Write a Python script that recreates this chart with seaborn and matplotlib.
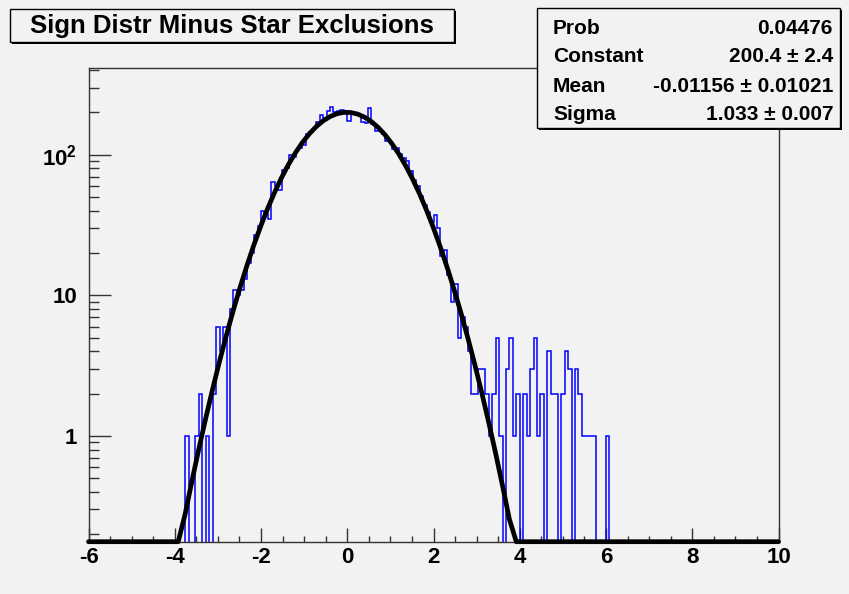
import numpy as np
import matplotlib
matplotlib.use('Agg')
import matplotlib.pyplot as plt
import seaborn as sns
from matplotlib.patches import Rectangle
from matplotlib.ticker import FixedLocator, FixedFormatter, NullFormatter, MultipleLocator, LogLocator

# ---------------- data ----------------
hist_title = "Sign Distr Minus Star Exclusions"
hist_xmin, hist_xmax, hist_nbins = -6.0, 10.0, 200
first_filled_bin = 28          # counts below start at bin 28 (x = -3.76)
bin_counts = [
    1, 0, 0, 1, 2, 0, 1, 0, 2, 6,
    4, 6, 1, 8, 11, 10, 11, 13, 17, 20,
    27, 31, 40, 38, 35, 64, 60, 56, 78, 80,
    99, 97, 108, 112, 117, 140, 146, 155, 170, 191,
    182, 205, 219, 200, 204, 208, 205, 175, 196, 198,
    191, 172, 168, 214, 165, 148, 150, 140, 126, 124,
    110, 112, 102, 94, 90, 76, 66, 60, 51, 44,
    39, 33, 37, 30, 19, 21, 14, 9, 12, 5,
    7, 6, 4, 2, 2, 3, 3, 2, 1, 2,
    5, 1, 0, 3, 5, 1, 2, 0, 2, 1,
    3, 5, 1, 2, 0, 4, 2, 2, 0, 2,
    4, 3, 0, 3, 2, 1, 1, 1, 1, 0,
    0, 0, 1,
]
stat_names = ["Prob", "Constant", "Mean", "Sigma"]
stat_values = ["0.04476", "200.4 \u00b1 2.4", "-0.01156 \u00b1 0.01021", "1.033 \u00b1 0.007"]
fit_constant, fit_mean, fit_sigma = 200.4, -0.01156, 1.033
x_ticks = [-6, -4, -2, 0, 2, 4, 6, 8, 10]
x_tick_labels = ["-6", "-4", "-2", "0", "2", "4", "6", "8", "10"]
y_ticks = [1, 10, 100]
y_tick_labels = ["1", "10", r"$\mathbf{10^{2}}$"]

# ---------------- style ----------------
sns.set_theme(style="ticks")
plt.rcParams['font.family'] = ['Liberation Sans', 'DejaVu Sans']
plt.rcParams['mathtext.fontset'] = 'custom'
plt.rcParams['mathtext.bf'] = 'Liberation Sans:bold'
plt.rcParams['mathtext.rm'] = 'Liberation Sans:bold'
plt.rcParams['mathtext.it'] = 'Liberation Sans:bold'

W, H = 849, 594
bg = '#f2f2f2'
frame_col = '#333333'
fig = plt.figure(figsize=(W / 100, H / 100), dpi=100, facecolor=bg)

ax_left, ax_right, ax_top, ax_bottom = 88.5, 778.5, 68.3, 541.7
ax = fig.add_axes([ax_left / W, 1 - ax_bottom / H, (ax_right - ax_left) / W, (ax_bottom - ax_top) / H])
ax.set_facecolor(bg)

ymin, ymax = 0.177, 411.7
ax.set_yscale('log')
ax.set_xlim(hist_xmin, hist_xmax)
ax.set_ylim(ymin, ymax)

# histogram
edges = np.linspace(hist_xmin, hist_xmax, hist_nbins + 1)
counts = np.zeros(hist_nbins)
counts[first_filled_bin:first_filled_bin + len(bin_counts)] = bin_counts
draw_counts = np.where(counts > 0, counts, ymin * 1e-3)
ax.stairs(draw_counts, edges, color='#0000ff', lw=1.1, baseline=None, zorder=2)

# gaussian fit curve (ROOT draws it with 100 segments, clipped at the frame bottom)
xf = np.linspace(hist_xmin, hist_xmax, 101)
yf = fit_constant * np.exp(-0.5 * ((xf - fit_mean) / fit_sigma) ** 2)
yf = np.maximum(yf, ymin)
sns.lineplot(x=xf, y=yf, color='black', lw=3.4, ax=ax, clip_on=False, zorder=3)

# ticks
ax.xaxis.set_major_locator(FixedLocator(x_ticks))
ax.xaxis.set_major_formatter(FixedFormatter(x_tick_labels))
ax.xaxis.set_minor_locator(MultipleLocator(0.5))
ax.yaxis.set_major_locator(FixedLocator(y_ticks))
ax.yaxis.set_major_formatter(FixedFormatter(y_tick_labels))
ax.yaxis.set_minor_locator(LogLocator(base=10, subs=np.arange(2, 10)))
ax.yaxis.set_minor_formatter(NullFormatter())
ax.tick_params(which='both', direction='in', top=False, right=False, color=frame_col, width=1.0)
ax.tick_params(axis='y', which='major', length=15.6, pad=8.0, labelsize=16)
ax.tick_params(axis='y', which='minor', length=7.2)
ax.tick_params(axis='x', which='major', length=10, pad=4.0, labelsize=16)
ax.tick_params(axis='x', which='minor', length=4.5)
for lab in ax.get_xticklabels() + ax.get_yticklabels():
    lab.set_fontweight('bold')
    lab.set_color('black')
for s in ax.spines.values():
    s.set_color(frame_col)
    s.set_linewidth(1.0)
ax.set_xlabel('')
ax.set_ylabel('')


def fx(px):
    return px / W


def fy(py):
    return 1 - py / H


def box(x0, y0, x1, y1, shadow=3):
    fig.patches.append(Rectangle((fx(x0 + shadow), fy(y1 + shadow)), fx(x1 - x0), (y1 - y0) / H,
                                 transform=fig.transFigure, facecolor='black', edgecolor='black',
                                 lw=0, zorder=5))
    fig.patches.append(Rectangle((fx(x0), fy(y1)), fx(x1 - x0), (y1 - y0) / H,
                                 transform=fig.transFigure, facecolor=bg, edgecolor='black',
                                 lw=1.0, zorder=6))


# title box
box(10, 9, 454, 42, shadow=2)
fig.text(fx(232), fy(26), hist_title, ha='center', va='center', fontsize=18.5,
         fontweight='bold', color='black', zorder=7)

# stats box
box(537, 8, 840, 128, shadow=2)
row_y = [28, 56, 86, 114]
for name, val, yy in zip(stat_names, stat_values, row_y):
    fig.text(fx(553), fy(yy), name, ha='left', va='center', fontsize=15,
             fontweight='bold', color='black', zorder=7)
    fig.text(fx(833), fy(yy), val, ha='right', va='center', fontsize=15,
             fontweight='bold', color='black', zorder=7)

fig.savefig('out.png', dpi=100, facecolor=bg)
